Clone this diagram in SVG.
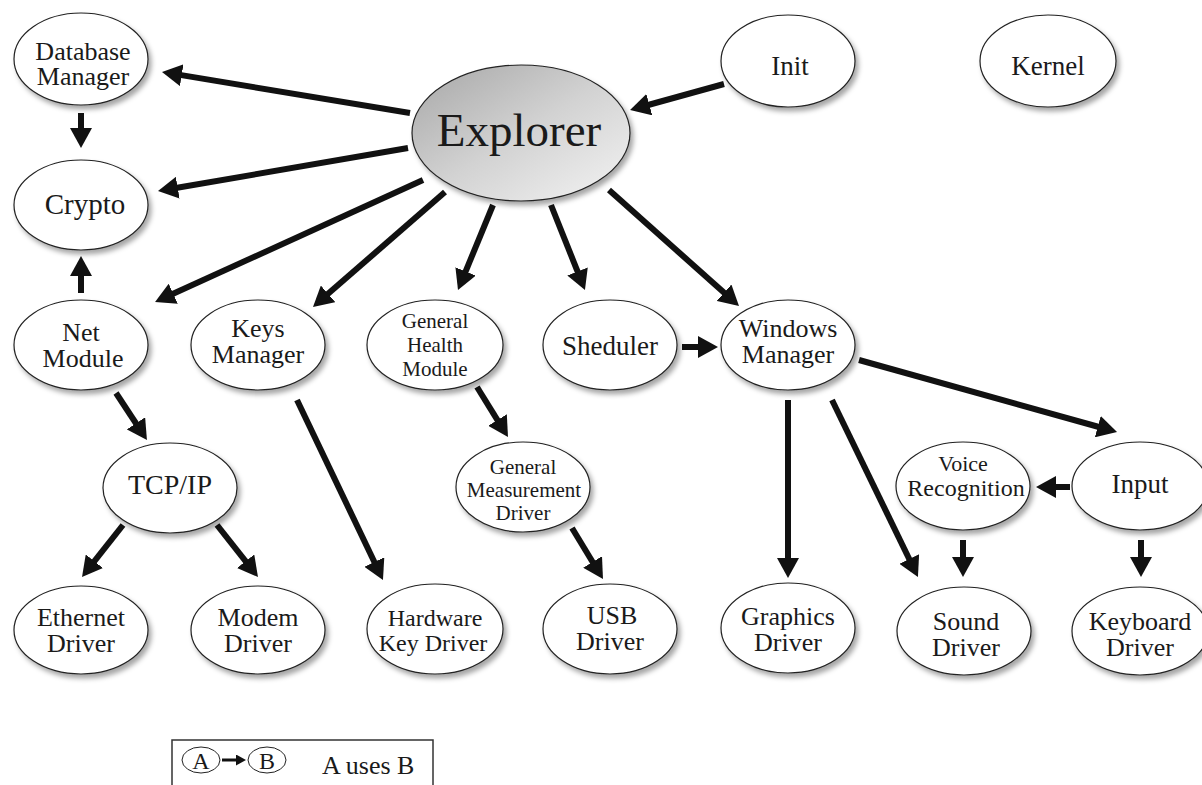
<svg xmlns="http://www.w3.org/2000/svg" width="1202" height="785" viewBox="0 0 1202 785">
<defs>
<filter id="sh" x="-20%" y="-20%" width="150%" height="150%">
<feDropShadow dx="3" dy="4" stdDeviation="2.5" flood-color="#000" flood-opacity="0.35"/>
</filter>
<linearGradient id="exg" x1="0" y1="0" x2="1" y2="1">
<stop offset="0" stop-color="#a6a6a6"/>
<stop offset="0.5" stop-color="#d2d2d2"/>
<stop offset="1" stop-color="#f4f4f4"/>
</linearGradient>
<marker id="ah" markerUnits="userSpaceOnUse" markerWidth="20" markerHeight="22" viewBox="0 0 20 22" refX="5" refY="11" orient="auto">
<path d="M0,0 L20,11 L0,22 z" fill="#111"/>
</marker>
<marker id="ahs" markerUnits="userSpaceOnUse" markerWidth="10" markerHeight="11" viewBox="0 0 10 11" refX="2" refY="5.5" orient="auto">
<path d="M0,0 L10,5.5 L0,11 z" fill="#111"/>
</marker>
</defs>
<style>
.n ellipse{fill:#fff;stroke:#222;stroke-width:1.2;filter:url(#sh)}
.n text{font-family:"Liberation Serif","Times New Roman",serif;font-size:26px;fill:#1a1a1a;text-anchor:middle}
.n text.s{font-size:21px}
#edges line{stroke:#111;stroke-width:6;marker-end:url(#ah)}
.lg text{font-family:"Liberation Serif","Times New Roman",serif;fill:#1a1a1a}
</style>
<rect width="1202" height="785" fill="#fff"/>

<g id="edges">
<line x1="410" y1="113" x2="176.8" y2="74.4"/>
<line x1="408" y1="148" x2="172.8" y2="188.5"/>
<line x1="423" y1="180" x2="168.7" y2="295.8"/>
<line x1="445" y1="192" x2="324.3" y2="297.1"/>
<line x1="493" y1="205" x2="463.7" y2="276.1"/>
<line x1="551" y1="205" x2="579.4" y2="276.1"/>
<line x1="609" y1="190" x2="727.8" y2="296"/>
<line x1="724" y1="84" x2="644.5" y2="106"/>
<line x1="81" y1="113" x2="81" y2="133"/>
<line x1="81" y1="293" x2="81" y2="271"/>
<line x1="116" y1="393" x2="138.7" y2="427.5"/>
<line x1="123" y1="525" x2="91.3" y2="565.2"/>
<line x1="217" y1="525" x2="248.7" y2="565.2"/>
<line x1="297" y1="400" x2="376.5" y2="566.5"/>
<line x1="477" y1="387" x2="500.1" y2="424.3"/>
<line x1="572" y1="528" x2="595.2" y2="566.2"/>
<line x1="682" y1="347" x2="703" y2="347"/>
<line x1="788" y1="400" x2="788" y2="563"/>
<line x1="832" y1="400" x2="911.4" y2="563.5"/>
<line x1="859" y1="360" x2="1102.6" y2="428"/>
<line x1="1070" y1="487" x2="1051" y2="487"/>
<line x1="963" y1="540" x2="963" y2="562"/>
<line x1="1141" y1="540" x2="1141" y2="562"/>
</g>

<g id="explorer" class="n"><ellipse cx="521" cy="133" rx="109" ry="68" style="fill:url(#exg)"/><text x="519" y="146" style="font-size:47px">Explorer</text></g>
<g id="database-manager" class="n"><ellipse cx="81" cy="59" rx="67" ry="46"/><text x="83" y="60">Database</text><text x="83" y="85">Manager</text></g>
<g id="crypto" class="n"><ellipse cx="81" cy="205" rx="67" ry="45"/><text x="85" y="214" style="font-size:29px">Crypto</text></g>
<g id="init" class="n"><ellipse cx="788" cy="61" rx="67" ry="46"/><text x="790" y="75" style="font-size:27px">Init</text></g>
<g id="kernel" class="n"><ellipse cx="1048" cy="61" rx="68" ry="46"/><text x="1048" y="75" style="font-size:27px">Kernel</text></g>
<g id="net-module" class="n"><ellipse cx="81" cy="345" rx="67" ry="45"/><text x="81" y="341">Net</text><text x="83" y="367">Module</text></g>
<g id="keys-manager" class="n"><ellipse cx="258" cy="345" rx="67" ry="45"/><text x="258" y="337">Keys</text><text x="258" y="363">Manager</text></g>
<g id="general-health-module" class="n"><ellipse cx="435" cy="345" rx="68" ry="45"/><text class="s" x="435" y="328">General</text><text class="s" x="435" y="352">Health</text><text class="s" x="435" y="376">Module</text></g>
<g id="sheduler" class="n"><ellipse cx="610" cy="345" rx="67" ry="45"/><text x="610" y="355" style="font-size:27px">Sheduler</text></g>
<g id="windows-manager" class="n"><ellipse cx="788" cy="345" rx="67" ry="45"/><text x="788" y="337">Windows</text><text x="788" y="363">Manager</text></g>
<g id="tcp-ip" class="n"><ellipse cx="170" cy="488" rx="67" ry="45"/><text x="170" y="494" style="font-size:28px">TCP/IP</text></g>
<g id="general-measurement-driver" class="n"><ellipse cx="523" cy="487" rx="67" ry="45"/><text class="s" x="523" y="474">General</text><text class="s" x="524" y="497">Measurement</text><text class="s" x="523" y="520">Driver</text></g>
<g id="voice-recognition" class="n"><ellipse cx="963" cy="486" rx="67" ry="44"/><text class="s" x="963" y="471" style="font-size:22px">Voice</text><text class="s" x="966" y="496" style="font-size:24px">Recognition</text></g>
<g id="input" class="n"><ellipse cx="1140" cy="486" rx="68" ry="44"/><text x="1140" y="493" style="font-size:27px">Input</text></g>
<g id="ethernet-driver" class="n"><ellipse cx="81" cy="630" rx="67" ry="44"/><text x="81" y="626">Ethernet</text><text x="81" y="652">Driver</text></g>
<g id="modem-driver" class="n"><ellipse cx="258" cy="630" rx="67" ry="44"/><text x="258" y="626">Modem</text><text x="258" y="652">Driver</text></g>
<g id="hardware-key-driver" class="n"><ellipse cx="435" cy="629" rx="68" ry="45"/><text x="435" y="626" style="font-size:24px">Hardware</text><text x="433" y="651" style="font-size:24px">Key Driver</text></g>
<g id="usb-driver" class="n"><ellipse cx="610" cy="629" rx="67" ry="45"/><text x="612" y="624">USB</text><text x="610" y="650">Driver</text></g>
<g id="graphics-driver" class="n"><ellipse cx="788" cy="628" rx="67" ry="45"/><text x="788" y="625">Graphics</text><text x="788" y="651">Driver</text></g>
<g id="sound-driver" class="n"><ellipse cx="964" cy="631" rx="67" ry="44"/><text x="966" y="630">Sound</text><text x="966" y="656">Driver</text></g>
<g id="keyboard-driver" class="n"><ellipse cx="1140" cy="631" rx="68" ry="44"/><text x="1140" y="630">Keyboard</text><text x="1140" y="656">Driver</text></g>

<g id="legend" class="lg">
<rect x="172" y="740" width="261" height="70" fill="#fff" stroke="#333" stroke-width="1.5"/>
<ellipse cx="201" cy="760" rx="19" ry="13" fill="#fff" stroke="#222" stroke-width="1"/>
<text x="201" y="769" font-size="24" text-anchor="middle">A</text>
<line x1="222" y1="760" x2="238" y2="760" stroke="#111" stroke-width="3" marker-end="url(#ahs)"/>
<ellipse cx="267" cy="760" rx="19" ry="13" fill="#fff" stroke="#222" stroke-width="1"/>
<text x="267" y="769" font-size="24" text-anchor="middle">B</text>
<text x="322" y="774" font-size="26">A uses B</text>
</g>
</svg>
